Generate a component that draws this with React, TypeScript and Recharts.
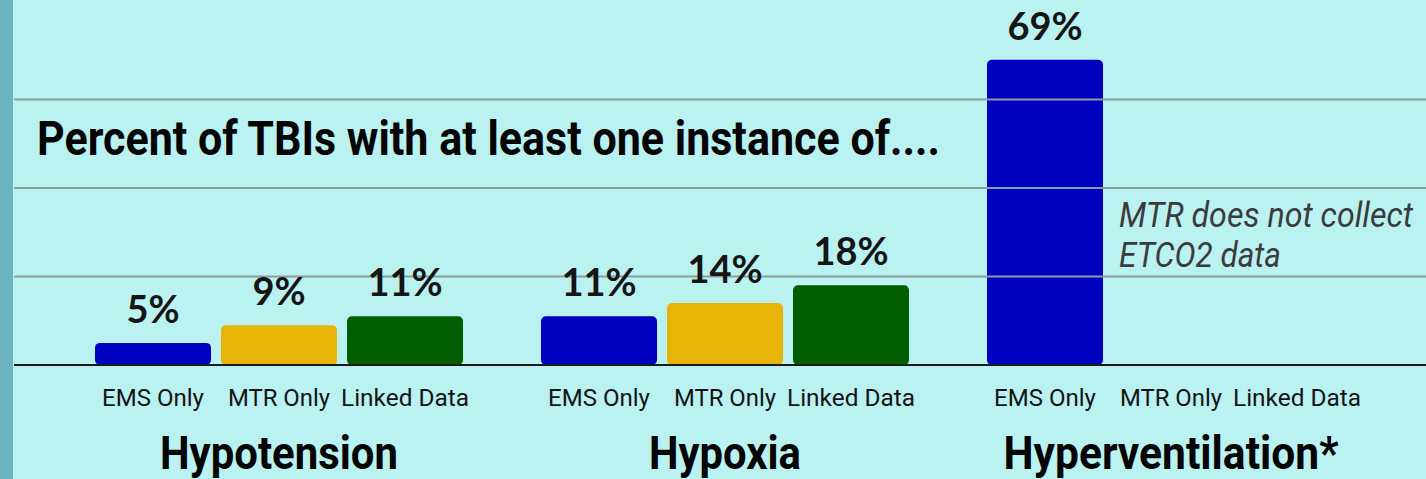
import React from "react";
import {
  BarChart,
  Bar,
  XAxis,
  YAxis,
  ReferenceLine,
  LabelList,
} from "recharts";

const CATEGORIES = ["Hypotension", "Hypoxia", "Hyperventilation*"];
const EMS_ONLY = [5, 11, 69];
const MTR_ONLY = [9, 14, null];
const LINKED_DATA = [11, 18, null];
const SERIES_NAMES = ["EMS Only", "MTR Only", "Linked Data"];
const GRID_VALUES = [20, 40, 60];

const TITLE = "Percent of TBIs with at least one instance of....";
const NOTE_LINES = ["MTR does not collect", "ETCO2 data"];

const COLORS = ["#0000c0", "#e8b406", "#005e00"];
const BG = "#baf1f1";
const STRIP = "#6cb4be";

// text widths to imitate the condensed face of the original
const TICK_WIDTHS: Record<string, number> = {
  "EMS Only": 102,
  "MTR Only": 102,
  "Linked Data": 128,
};
const CAT_WIDTHS: Record<string, number> = {
  Hypotension: 238,
  Hypoxia: 152,
  "Hyperventilation*": 335,
};

const W = 1426;
const H = 479;
const PLOT_BOTTOM = 365;
const BAR_SIZE = 116;
const BAR_GAP = 10;

const data = CATEGORIES.map((c, i) => ({
  category: c,
  ems: EMS_ONLY[i],
  mtr: MTR_ONLY[i],
  linked: LINKED_DATA[i],
}));

const ValueLabel = (props: any) => {
  const { x, y, width, value } = props;
  if (value == null) return null;
  return (
    <text
      x={Number(x) + Number(width) / 2}
      y={Number(y) - 20}
      textAnchor="middle"
      fontFamily="Lato, sans-serif"
      fontWeight={700}
      fontSize={38}
      fill="#151515"
    >
      {`${value}%`}
    </text>
  );
};

const CategoryTick = (props: any) => {
  const { x, payload } = props;
  const step = BAR_SIZE + BAR_GAP;
  return (
    <g>
      {SERIES_NAMES.map((name, i) => (
        <text
          key={name}
          x={x + (i - 1) * step}
          y={PLOT_BOTTOM + 41}
          textAnchor="middle"
          fontFamily="Roboto, sans-serif"
          fontSize={24}
          fill="#141414"
          textLength={TICK_WIDTHS[name]}
          lengthAdjust="spacingAndGlyphs"
        >
          {name}
        </text>
      ))}
      <text
        x={x}
        y={PLOT_BOTTOM + 104}
        textAnchor="middle"
        fontFamily="Roboto, sans-serif"
        fontWeight={700}
        fontSize={47}
        fill="#050505"
        textLength={CAT_WIDTHS[payload.value]}
        lengthAdjust="spacingAndGlyphs"
      >
        {payload.value}
      </text>
    </g>
  );
};

export default function App() {
  return (
    <div
      style={{
        position: "relative",
        width: W,
        height: H,
        background: BG,
        overflow: "hidden",
      }}
    >
      <style>{`body{margin:0}`}</style>
      <div
        style={{
          position: "absolute",
          left: 0,
          top: 0,
          width: 13,
          height: H,
          background: STRIP,
        }}
      />
      <BarChart
        width={W}
        height={H}
        data={data}
        margin={{ top: 11, right: 0, left: 14, bottom: 0 }}
        barGap={BAR_GAP}
      >
        <YAxis hide width={0} domain={[0, 80]} />
        <XAxis
          dataKey="category"
          height={H - PLOT_BOTTOM}
          interval={0}
          padding={{ left: 42, right: 32 }}
          axisLine={{ stroke: "#1a1a1a", strokeWidth: 2 }}
          tickLine={false}
          tick={<CategoryTick />}
        />
        {GRID_VALUES.map((v) => (
          <ReferenceLine key={v} y={v} stroke="#8d9c9d" strokeWidth={2} />
        ))}
        <Bar
          dataKey="ems"
          fill={COLORS[0]}
          barSize={BAR_SIZE}
          radius={5}
          isAnimationActive={false}
        >
          <LabelList dataKey="ems" content={<ValueLabel />} />
        </Bar>
        <Bar
          dataKey="mtr"
          fill={COLORS[1]}
          barSize={BAR_SIZE}
          radius={5}
          isAnimationActive={false}
        >
          <LabelList dataKey="mtr" content={<ValueLabel />} />
        </Bar>
        <Bar
          dataKey="linked"
          fill={COLORS[2]}
          barSize={BAR_SIZE}
          radius={5}
          isAnimationActive={false}
        >
          <LabelList dataKey="linked" content={<ValueLabel />} />
        </Bar>
      </BarChart>
      <svg
        width={W}
        height={H}
        style={{ position: "absolute", left: 0, top: 0, pointerEvents: "none" }}
      >
        <text
          x={37}
          y={155}
          fontFamily="Roboto, sans-serif"
          fontWeight={700}
          fontSize={48}
          fill="#050505"
          textLength={903}
          lengthAdjust="spacingAndGlyphs"
        >
          {TITLE}
        </text>
        {NOTE_LINES.map((line, i) => (
          <text
            key={line}
            x={1119}
            y={227 + i * 40}
            fontFamily="Roboto, sans-serif"
            fontStyle="italic"
            fontSize={35}
            fill="#3b3b3b"
            textLength={i === 0 ? 294 : 162}
            lengthAdjust="spacingAndGlyphs"
          >
            {line}
          </text>
        ))}
      </svg>
    </div>
  );
}
